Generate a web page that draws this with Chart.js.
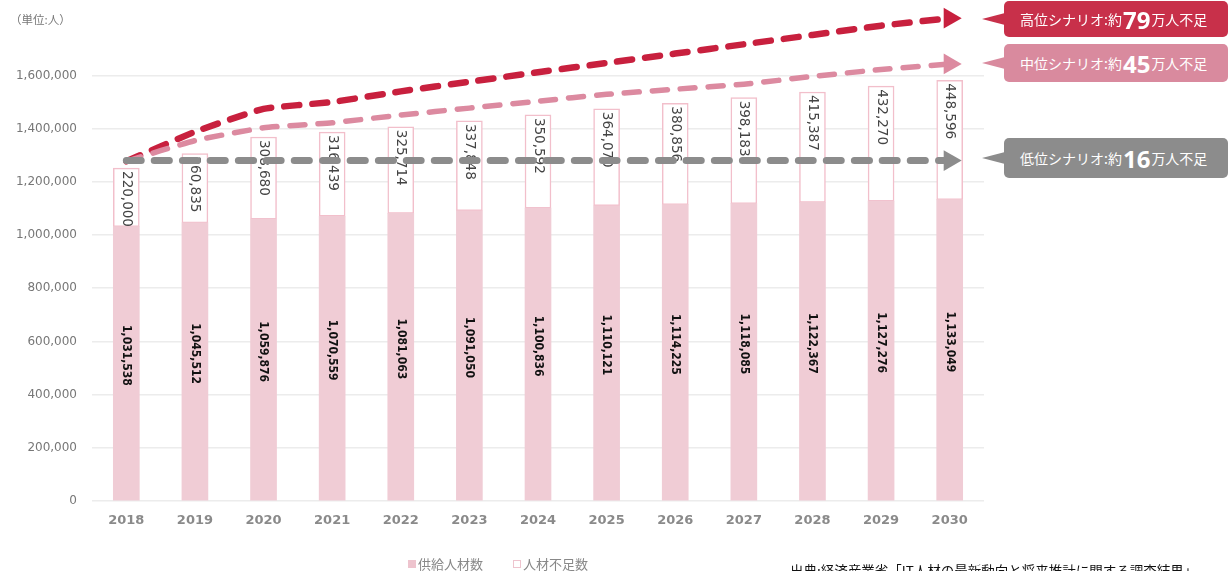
<!DOCTYPE html>
<html>
<head>
<meta charset="utf-8">
<script src="https://cdn.jsdelivr.net/npm/chart.js@4/dist/chart.umd.min.js"></script>
<style>
  body { margin: 0; background: #fff; font-family: "Noto Sans CJK JP", sans-serif; }
  #wrap { position: relative; width: 1230px; height: 571px; overflow: hidden; }
  #myChart { position: absolute; left: 0; top: 0; }
  .unit { position: absolute; left: 10px; top: 11px; font-size: 11.5px; color: #777; }
  .callout { position: absolute; left: 1004px; width: 224px; border-radius: 5px; color: #fff;
             font-size: 14px; display: flex; align-items: center; padding-left: 16px; box-sizing: border-box; }
  .callout b { font-size: 24px; font-weight: 700; font-family: "Noto Sans", sans-serif; margin: 0 1px; }
  .callout::before { content: ''; position: absolute; left: -22px; top: 50%; width: 23px; height: 12px;
             margin-top: -6px; background: inherit; clip-path: polygon(0 50%, 100% 0, 100% 100%); }
  .legend { position: absolute; top: 554px; left: 408px; font-size: 13px; color: #888; display: flex; align-items: center; }
  .legend i { display: inline-block; width: 8px; height: 8px; margin-right: 2px; box-sizing: border-box; }
  .legend span { display: flex; align-items: center; margin-right: 30px; }
  .source { position: absolute; left: 790px; top: 563px; font-size: 13.5px; color: #111; white-space: nowrap; line-height: 14px; }
</style>
</head>
<body>
<div id="wrap">
  <canvas id="myChart" width="1230" height="571"></canvas>
  <div class="unit">（単位:人）</div>
  <div class="callout" style="top:1px;height:36px;background:#c8304a;">高位シナリオ:約<b>79</b>万人不足</div>
  <div class="callout" style="top:44px;height:38px;background:#d98a9e;">中位シナリオ:約<b>45</b>万人不足</div>
  <div class="callout" style="top:138px;height:40px;background:#8c8c8c;">低位シナリオ:約<b>16</b>万人不足</div>
  <div class="legend">
    <span><i style="background:#eec4ce;"></i>供給人材数</span>
    <span><i style="border:1.5px solid #eec4ce;background:#fff;"></i>人材不足数</span>
  </div>
  <div class="source">出典:経済産業省「IT人材の最新動向と将来推計に関する調査結果」</div>
</div>
<script>
const years = ['2018', '2019', '2020', '2021', '2022', '2023', '2024', '2025', '2026', '2027', '2028', '2029', '2030'];
const supply = [1031538, 1045512, 1059876, 1070559, 1081063, 1091050, 1100836, 1110121, 1114225, 1118085, 1122367, 1127276, 1133049];
const shortage = [220000, 260835, 308680, 316439, 325714, 337848, 350592, 364070, 380856, 398183, 415387, 432270, 448596];
const highScenario = [1277000, 1388000, 1474000, 1500000, 1540000, 1576000, 1612000, 1647000, 1682000, 1717000, 1752000, 1787000, 1815000];
const midScenario = [1277000, 1355000, 1403000, 1422000, 1451000, 1477000, 1503000, 1529000, 1548000, 1567000, 1596000, 1622000, 1643000];
const lowScenario = [1280000, 1280000, 1280000, 1280000, 1280000, 1280000, 1280000, 1280000, 1280000, 1280000, 1280000, 1280000, 1280000];

const fmt = v => v.toLocaleString('en-US');
const arrowOnly = r => years.map((y, i) => i === years.length - 1 ? r : 0);

// rotated value labels inside the bars
const barLabels = {
  id: 'barLabels',
  afterDatasetDraw(chart, args) {
    if (args.index > 1) return;
    const ctx = chart.ctx;
    const meta = args.meta;
    const values = args.index === 0 ? supply : shortage;
    ctx.save();
    meta.data.forEach((bar, i) => {
      const top = Math.min(bar.y, bar.base);
      const bottom = Math.max(bar.y, bar.base);
      ctx.save();
      if (args.index === 0) {
        ctx.translate(bar.x, (top + bottom) / 2 - 8);
        ctx.rotate(Math.PI / 2);
        ctx.font = 'bold 12px "DejaVu Sans Condensed", "DejaVu Sans", sans-serif';
        ctx.fillStyle = '#111';
        ctx.textAlign = 'center';
      } else {
        ctx.translate(bar.x, top + 3);
        ctx.rotate(Math.PI / 2);
        ctx.font = '13.5px "DejaVu Sans", sans-serif';
        ctx.fillStyle = '#444';
        ctx.textAlign = 'left';
      }
      ctx.textBaseline = 'middle';
      ctx.fillText(fmt(values[i]), 0, 0);
      ctx.restore();
    });
    ctx.restore();
  }
};

const lineSet = (label, data, color, width, r, stack) => ({
  type: 'line',
  label: label,
  data: data,
  stack: stack,
  order: 0,
  borderColor: color,
  backgroundColor: color,
  borderWidth: width,
  borderDash: [15, 13],
  borderCapStyle: 'round',
  tension: 0.15,
  fill: false,
  clip: false,
  pointStyle: 'triangle',
  rotation: 90,
  pointRadius: arrowOnly(r),
  pointHoverRadius: arrowOnly(r),
  pointBorderWidth: 0
});

new Chart(document.getElementById('myChart'), {
  type: 'bar',
  data: {
    labels: years,
    datasets: [
      {
        label: '供給人材数',
        data: supply,
        stack: 'bars',
        order: 1,
        backgroundColor: '#f0ccd5',
        borderWidth: 0,
        barThickness: 26
      },
      {
        label: '人材不足数',
        data: shortage,
        stack: 'bars',
        order: 1,
        backgroundColor: '#ffffff',
        borderColor: '#f2bfcb',
        borderWidth: 1.5,
        borderSkipped: false,
        barThickness: 26
      },
      lineSet('低位シナリオ', lowScenario, '#8c8c8c', 7, 12, 'l'),
      lineSet('中位シナリオ', midScenario, '#dc8aa0', 5.5, 12, 'm'),
      lineSet('高位シナリオ', highScenario, '#c8203e', 6.5, 12, 'h')
    ]
  },
  options: {
    responsive: false,
    animation: false,
    layout: { padding: { top: 16, right: 246, left: 0, bottom: 0 } },
    plugins: {
      legend: { display: false },
      tooltip: { enabled: false }
    },
    scales: {
      x: {
        stacked: true,
        afterFit: s => { s.height = 70; },
        grid: { display: false, drawTicks: false },
        border: { display: false },
        ticks: {
          padding: 12,
          color: '#8a8a8a',
          font: { family: '"DejaVu Sans", sans-serif', size: 13, weight: 'bold' }
        }
      },
      y: {
        stacked: true,
        min: 0,
        max: 1800000,
        afterFit: s => { s.width = 92; },
        border: { display: false },
        grid: {
          drawTicks: false,
          lineWidth: 1.5,
          color: c => (c.tick && c.tick.value <= 1600000) ? '#ececec' : 'rgba(0,0,0,0)'
        },
        ticks: {
          stepSize: 200000,
          padding: 15,
          color: '#777',
          font: { family: '"DejaVu Sans", sans-serif', size: 12 },
          callback: v => v <= 1600000 ? fmt(v) : ''
        }
      }
    }
  },
  plugins: [barLabels]
});
</script>
</body>
</html>
